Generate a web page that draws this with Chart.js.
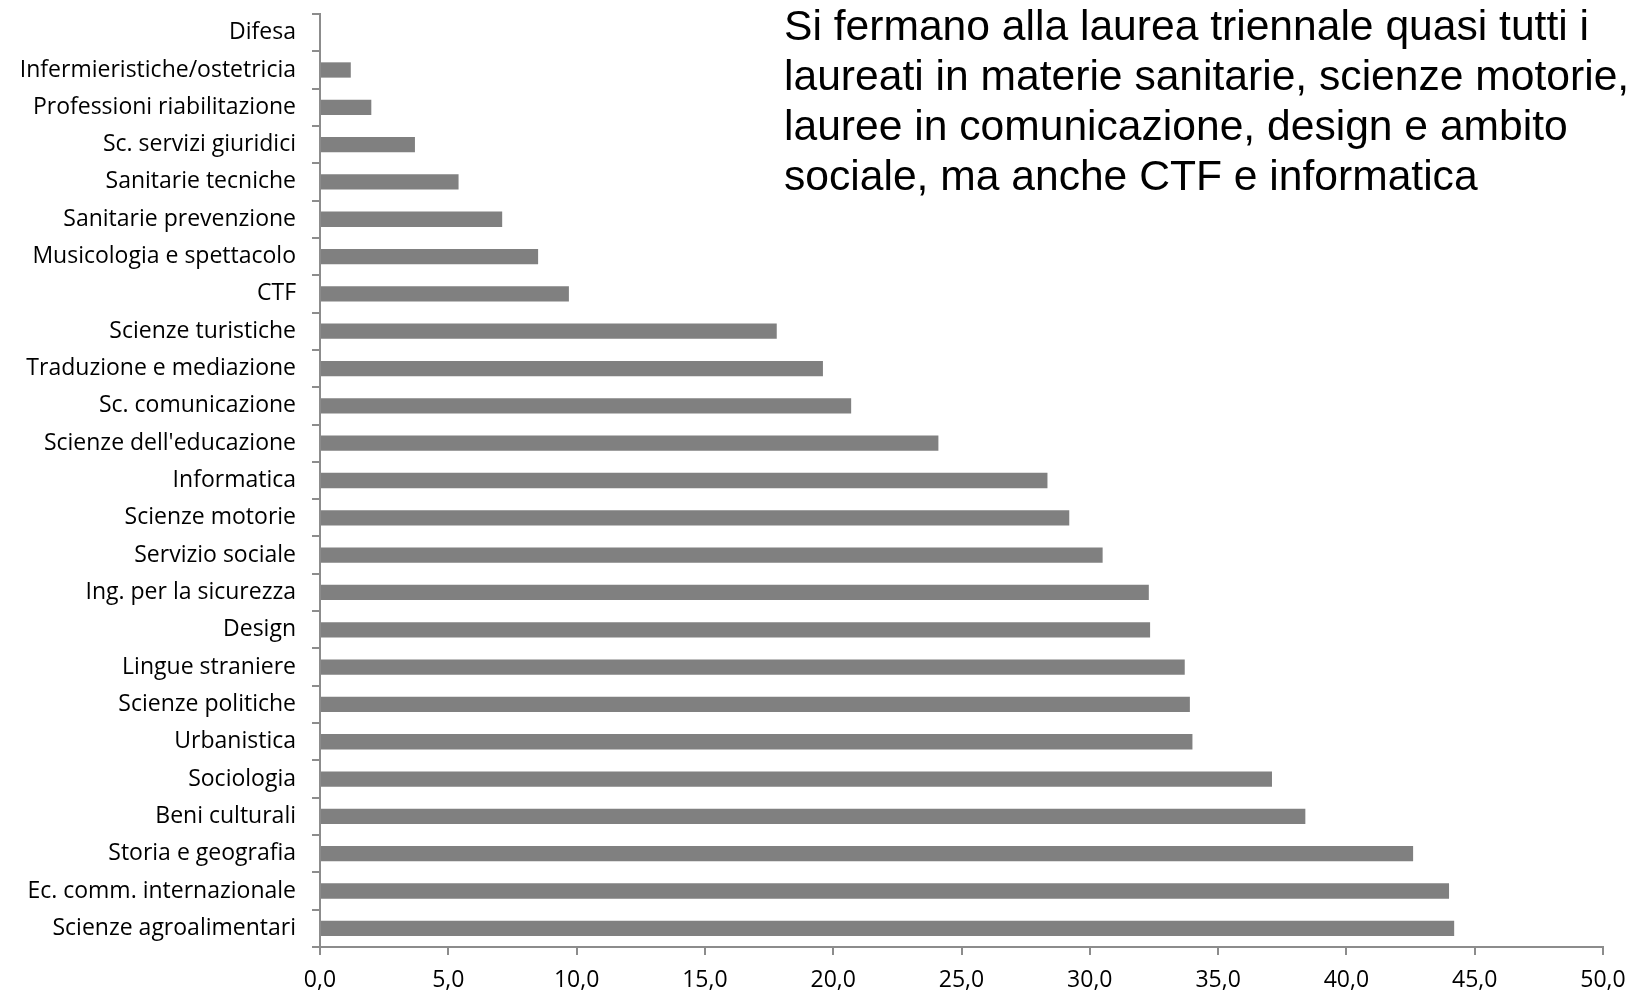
<!DOCTYPE html>
<html>
<head>
<meta charset="utf-8">
<script src="https://cdn.jsdelivr.net/npm/chart.js@4.4.1/dist/chart.umd.min.js"></script>
<style>
	html, body { margin: 0; padding: 0; background: #fff; }
	#wrap { position: relative; width: 1644px; height: 993px; }
	#note {
		position: absolute; left: 784px; top: 0px;
		font-family: 'Liberation Sans', Arial, sans-serif;
		font-size: 42.6px; line-height: 50px; color: #000;
		white-space: nowrap;
	}
</style>
</head>
<body>
<div id="wrap">
	<canvas id="chart" width="1644" height="993"></canvas>
	<div id="note">Si fermano alla laurea triennale quasi tutti i<br>laureati in materie sanitarie, scienze motorie,<br>lauree in comunicazione, design e ambito<br>sociale, ma anche CTF e informatica</div>
</div>
<script>
var labels = [
	'Difesa',
	'Infermieristiche/ostetricia',
	'Professioni riabilitazione',
	'Sc. servizi giuridici',
	'Sanitarie tecniche',
	'Sanitarie prevenzione',
	'Musicologia e spettacolo',
	'CTF',
	'Scienze turistiche',
	'Traduzione e mediazione',
	'Sc. comunicazione',
	"Scienze dell'educazione",
	'Informatica',
	'Scienze motorie',
	'Servizio sociale',
	'Ing. per la sicurezza',
	'Design',
	'Lingue straniere',
	'Scienze politiche',
	'Urbanistica',
	'Sociologia',
	'Beni culturali',
	'Storia e geografia',
	'Ec. comm. internazionale',
	'Scienze agroalimentari'
];

var values = [
	0, 1.2, 2.0, 3.7, 5.4, 7.1, 8.5, 9.7, 17.8, 19.6,
	20.7, 24.1, 28.35, 29.2, 30.5, 32.3, 32.35, 33.7, 33.9, 34.0,
	37.1, 38.4, 42.6, 44.0, 44.2
];

var xMin = 0,
	xMax = 50,
	xStep = 5;

var axisColor = '#8c8c8c',
	labelFont = { family: "'Open Sans', sans-serif", size: 23 };

var ctx = document.getElementById('chart').getContext('2d');
var myBarChart = new Chart(ctx, {
	type: 'bar',
	data: {
		labels: labels,
		datasets: [
			{
				label: 'Laureati',
				backgroundColor: '#808080',
				borderWidth: 0,
				categoryPercentage: 1,
				barPercentage: 0.41,
				data: values
			}
		]
	},
	options: {
		indexAxis: 'y',
		responsive: false,
		animation: false,
		layout: {
			padding: { top: 14, right: 41, bottom: 0, left: 0 }
		},
		plugins: {
			legend: { display: false },
			tooltip: { enabled: false }
		},
		scales: {
			y: {
				afterFit: function (scale) {
					scale.width = 320;
					// labels sit in offset slots, no extra room needed at the ends
					scale.paddingTop = 0;
					scale.paddingBottom = 0;
				},
				grid: {
					offset: true,
					drawOnChartArea: false,
					tickLength: 8,
					color: axisColor,
					lineWidth: 2
				},
				border: { color: axisColor, width: 2 },
				ticks: {
					color: '#000',
					font: labelFont,
					padding: 16,
					autoSkip: false
				}
			},
			x: {
				min: xMin,
				max: xMax,
				afterFit: function (scale) { scale.height = 46; },
				grid: {
					drawOnChartArea: false,
					tickLength: 8,
					color: axisColor,
					lineWidth: 2
				},
				border: { color: axisColor, width: 2 },
				ticks: {
					stepSize: xStep,
					color: '#000',
					font: labelFont,
					padding: 12,
					maxRotation: 0,
					callback: function (v) { return v.toFixed(1).replace('.', ','); }
				}
			}
		}
	}
});
</script>
</body>
</html>
